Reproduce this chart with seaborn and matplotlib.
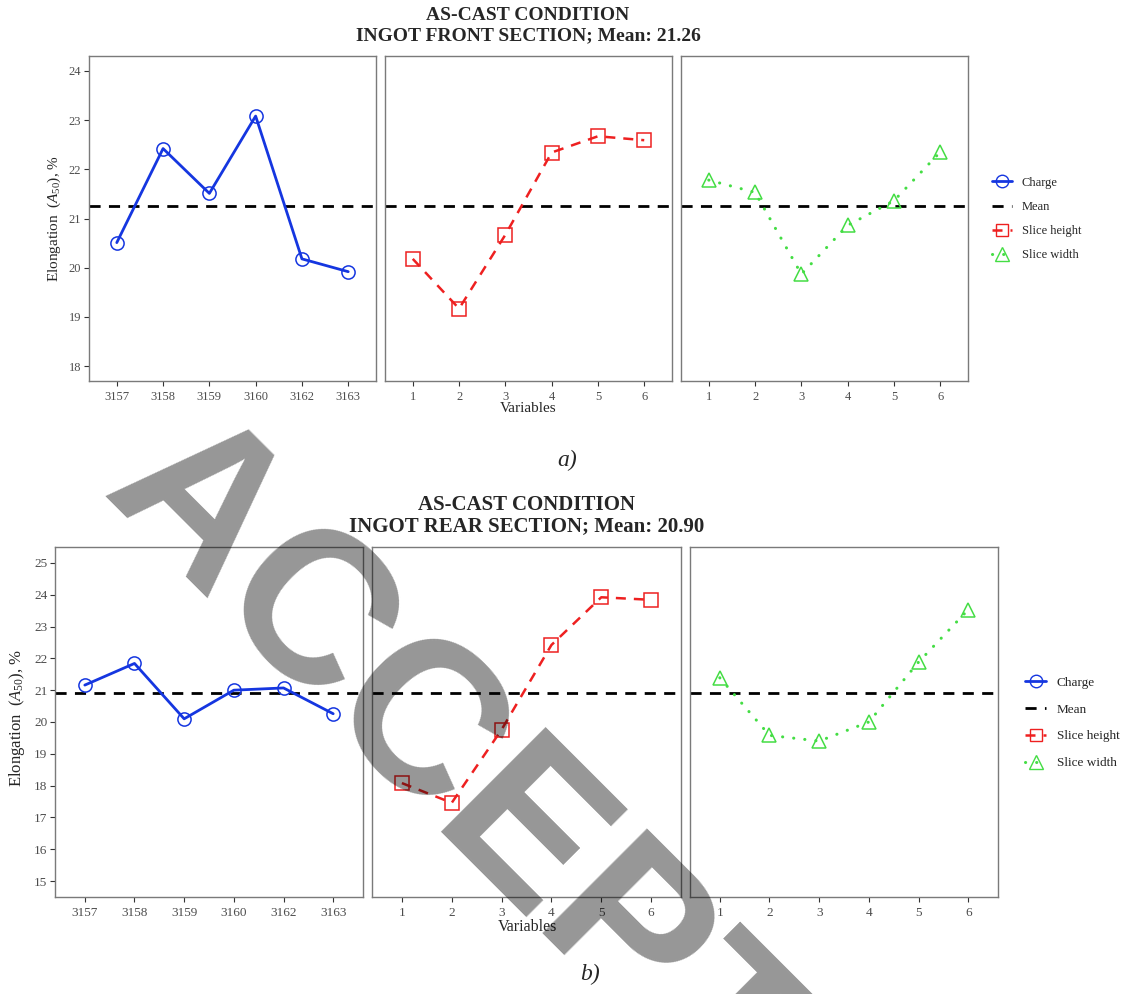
import numpy as np
import pandas as pd
import seaborn as sns
import matplotlib
matplotlib.use("Agg")
import matplotlib.pyplot as plt
from matplotlib.lines import Line2D

# ---------------- data ----------------
charges = ["3157", "3158", "3159", "3160", "3162", "3163"]
variables = ["1", "2", "3", "4", "5", "6"]

front_charge = [20.51, 22.42, 21.51, 23.08, 20.18, 19.92]
front_height = [20.18, 19.17, 20.67, 22.34, 22.67, 22.59]
front_width = [21.78, 21.53, 19.87, 20.86, 21.36, 22.35]
front_mean = 21.26

rear_charge = [21.16, 21.84, 20.10, 21.00, 21.07, 20.26]
rear_height = [18.08, 17.46, 19.76, 22.42, 23.92, 23.84]
rear_width = [21.39, 19.58, 19.40, 20.00, 21.88, 23.53]
rear_mean = 20.90

legend_labels = ["Charge", "Mean", "Slice height", "Slice width"]

# ---------------- style ----------------
sns.set_theme(style="white")
plt.rcParams["font.family"] = ["Liberation Serif", "DejaVu Serif"]
plt.rcParams["mathtext.fontset"] = "custom"
plt.rcParams["mathtext.rm"] = "Liberation Serif"
plt.rcParams["mathtext.it"] = "Liberation Serif:italic"

W, H = 1125, 994
BLUE = "#1536e0"
RED = "#ee2020"
GREEN = "#44dd44"
SPINE = "#7a7a7a"
TICKC = "#4d4d4d"

fig = plt.figure(figsize=(W / 100, H / 100), dpi=100)


def rect(x0, x1, y0, y1):
    return [x0 / W, 1 - y1 / H, (x1 - x0) / W, (y1 - y0) / H]


def fx(x):
    return x / W


def fy(y):
    return 1 - y / H


series_style = [
    dict(color=BLUE, linestyle="-", lw=2.0, marker="o", ms=9.5),
    dict(color=RED, linestyle=(0, (4, 3.2)), lw=1.8, marker="s", ms=10),
    dict(color=GREEN, linestyle=(0, (0.05, 3.6)), lw=2.2, marker="^", ms=10.5,
         dash_capstyle="round"),
]


def block(xs, y0, y1, ylim, yticks, data, mean, fs):
    axes = []
    for i, (xa, xb) in enumerate(xs):
        ax = fig.add_axes(rect(xa, xb, y0, y1))
        st = dict(series_style[i])
        df = pd.DataFrame({"x": np.arange(1, 7), "y": data[i]})
        ax.axhline(mean, color="black", lw=2.0, linestyle=(0, (4, 3)), zorder=1)
        sns.lineplot(data=df, x="x", y="y", ax=ax, color=st["color"],
                     linestyle=st["linestyle"], lw=st["lw"], marker=st["marker"],
                     markersize=st["ms"], mfc="none", mec=st["color"], mew=1.1,
                     zorder=3,
                     **({"dash_capstyle": st["dash_capstyle"]} if "dash_capstyle" in st else {}))
        ax.set_xlim(0.4, 6.6)
        ax.set_ylim(*ylim)
        ax.set_xticks(np.arange(1, 7))
        ax.set_xticklabels(charges if i == 0 else variables)
        ax.set_xlabel("")
        ax.set_ylabel("")
        for sp in ax.spines.values():
            sp.set_color(SPINE)
            sp.set_linewidth(1.0)
        if i == 0:
            ax.set_yticks(yticks)
            ax.tick_params(axis="y", left=True, length=3.5, width=0.8, color="#333333",
                           labelsize=fs, labelcolor=TICKC, pad=2)
        else:
            ax.set_yticks([])
        ax.tick_params(axis="x", bottom=True, length=3.5, width=0.8, color="#333333",
                       labelsize=fs, labelcolor=TICKC, pad=4)
        axes.append(ax)
    return axes


def legend(x, yc, fs, spacing):
    handles = [
        Line2D([], [], color=BLUE, lw=2.0, marker="o", ms=9, mfc="none", mec=BLUE),
        Line2D([], [], color="black", lw=2.0, linestyle=(0, (4, 3))),
        Line2D([], [], color=RED, lw=1.8, linestyle=(0, (4, 3.2)), marker="s", ms=8.5,
               mfc="none", mec=RED),
        Line2D([], [], color=GREEN, lw=2.2, linestyle=(0, (0.05, 3.6)),
               dash_capstyle="round", marker="^", ms=9.5, mfc="none", mec=GREEN),
    ]
    fig.legend(handles, legend_labels, loc="center left", bbox_to_anchor=(fx(x), fy(yc)),
               frameon=False, fontsize=fs, handlelength=1.6, handletextpad=0.8,
               labelspacing=spacing, borderpad=0, borderaxespad=0)


# ---------------- block a ----------------
a_axes = block([(89, 376), (385, 672), (681, 968)], 56, 381, (17.7, 24.3),
               [18, 19, 20, 21, 22, 23, 24],
               [front_charge, front_height, front_width], front_mean, 9)
fig.text(fx(528), fy(16), "AS-CAST CONDITION", ha="center", va="center",
         fontsize=14, fontweight="bold")
fig.text(fx(528), fy(36), f"INGOT FRONT SECTION; Mean: {front_mean:.2f}", ha="center",
         va="center", fontsize=14, fontweight="bold")
fig.text(fx(528), fy(409), "Variables", ha="center", va="center", fontsize=11)
fig.text(fx(54), fy(219), r"Elongation  $(A_{50})$, %", ha="center", va="center",
         rotation=90, fontsize=11)
fig.text(fx(567), fy(460), "a)", ha="center", va="center", fontsize=17, style="italic")
legend(992, 219, 9, 0.98)

# ---------------- block b ----------------
b_axes = block([(55, 363), (372, 681), (690, 998)], 547, 897, (14.5, 25.5),
               list(range(15, 26)),
               [rear_charge, rear_height, rear_width], rear_mean, 9.5)
fig.text(fx(527), fy(505), "AS-CAST CONDITION", ha="center", va="center",
         fontsize=15, fontweight="bold")
fig.text(fx(527), fy(526), f"INGOT REAR SECTION; Mean: {rear_mean:.2f}", ha="center",
         va="center", fontsize=15, fontweight="bold")
fig.text(fx(527), fy(927), "Variables", ha="center", va="center", fontsize=11.5)
fig.text(fx(17), fy(718), r"Elongation  $(A_{50})$, %", ha="center", va="center",
         rotation=90, fontsize=12)
fig.text(fx(590), fy(974), "b)", ha="center", va="center", fontsize=17, style="italic")
legend(1025, 723, 9.5, 1.1)

# ---------------- watermark ----------------
fig.text(fx(518), fy(914), "ACCEPTED", rotation=-45, rotation_mode="anchor",
         ha="center", va="baseline", fontsize=155, fontweight="bold",
         family="Liberation Sans", color="black", alpha=0.41, zorder=10)

fig.savefig("out.png", dpi=100)
